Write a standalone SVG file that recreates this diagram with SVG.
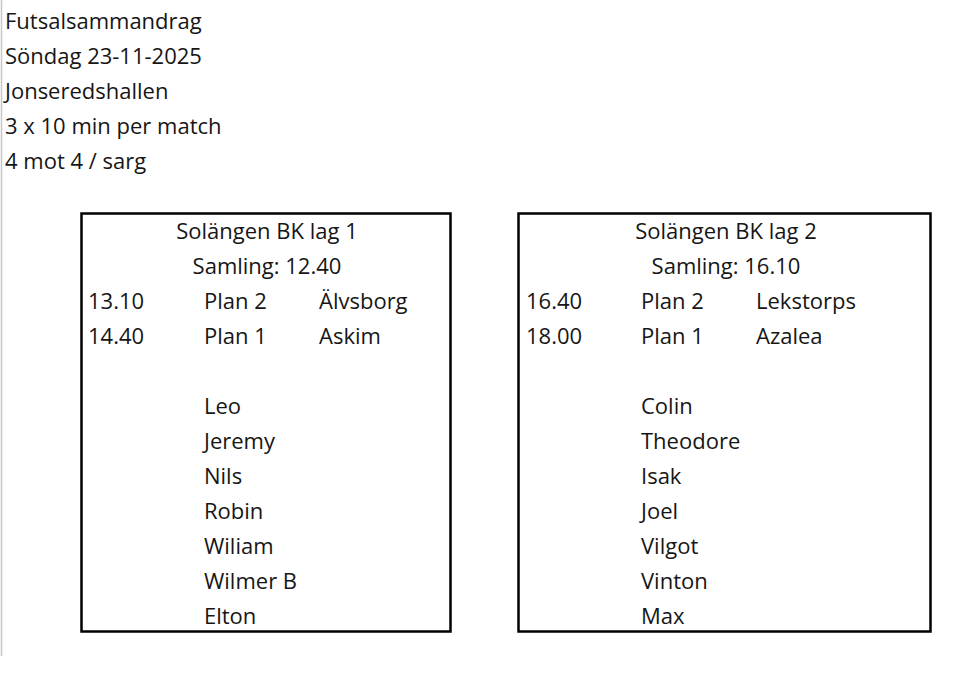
<svg xmlns="http://www.w3.org/2000/svg" width="960" height="694" viewBox="0 0 960 694">
<style>
text{font-family:"Open Sans","Noto Sans","Liberation Sans",sans-serif;font-size:22px;fill:#161616}
.c{text-anchor:middle}
.box{fill:none;stroke:#000;stroke-width:2.5}
</style>
<rect width="960" height="694" fill="#fff"/>
<line x1="1.5" y1="0" x2="1.5" y2="656" stroke="#c8c8c8" stroke-width="1.5"/>
<g id="header">
<text x="5" y="29">Futsalsammandrag</text>
<text x="5" y="64">Söndag 23-11-2025</text>
<text x="5" y="99">Jonseredshallen</text>
<text x="5" y="134">3 x 10 min per match</text>
<text x="5" y="169">4 mot 4 / sarg</text>
</g>
<g id="team1">
<rect class="box" x="81.5" y="213.5" width="369" height="418"/>
<text class="c" x="267" y="239">Solängen BK lag 1</text>
<text class="c" x="267" y="274">Samling: 12.40</text>
<text x="88" y="309">13.10</text><text x="204" y="309">Plan 2</text><text x="319" y="309">Älvsborg</text>
<text x="88" y="344">14.40</text><text x="204" y="344">Plan 1</text><text x="319" y="344">Askim</text>
<text x="204" y="414">Leo</text>
<text x="204" y="449">Jeremy</text>
<text x="204" y="484">Nils</text>
<text x="204" y="519">Robin</text>
<text x="204" y="554">Wiliam</text>
<text x="204" y="589">Wilmer B</text>
<text x="204" y="624">Elton</text>
</g>
<g id="team2">
<rect class="box" x="518.5" y="213.5" width="412" height="418"/>
<text class="c" x="726" y="239">Solängen BK lag 2</text>
<text class="c" x="726" y="274">Samling: 16.10</text>
<text x="526" y="309">16.40</text><text x="641" y="309">Plan 2</text><text x="756" y="309">Lekstorps</text>
<text x="526" y="344">18.00</text><text x="641" y="344">Plan 1</text><text x="756" y="344">Azalea</text>
<text x="641" y="414">Colin</text>
<text x="641" y="449">Theodore</text>
<text x="641" y="484">Isak</text>
<text x="641" y="519">Joel</text>
<text x="641" y="554">Vilgot</text>
<text x="641" y="589">Vinton</text>
<text x="641" y="624">Max</text>
</g>
</svg>
